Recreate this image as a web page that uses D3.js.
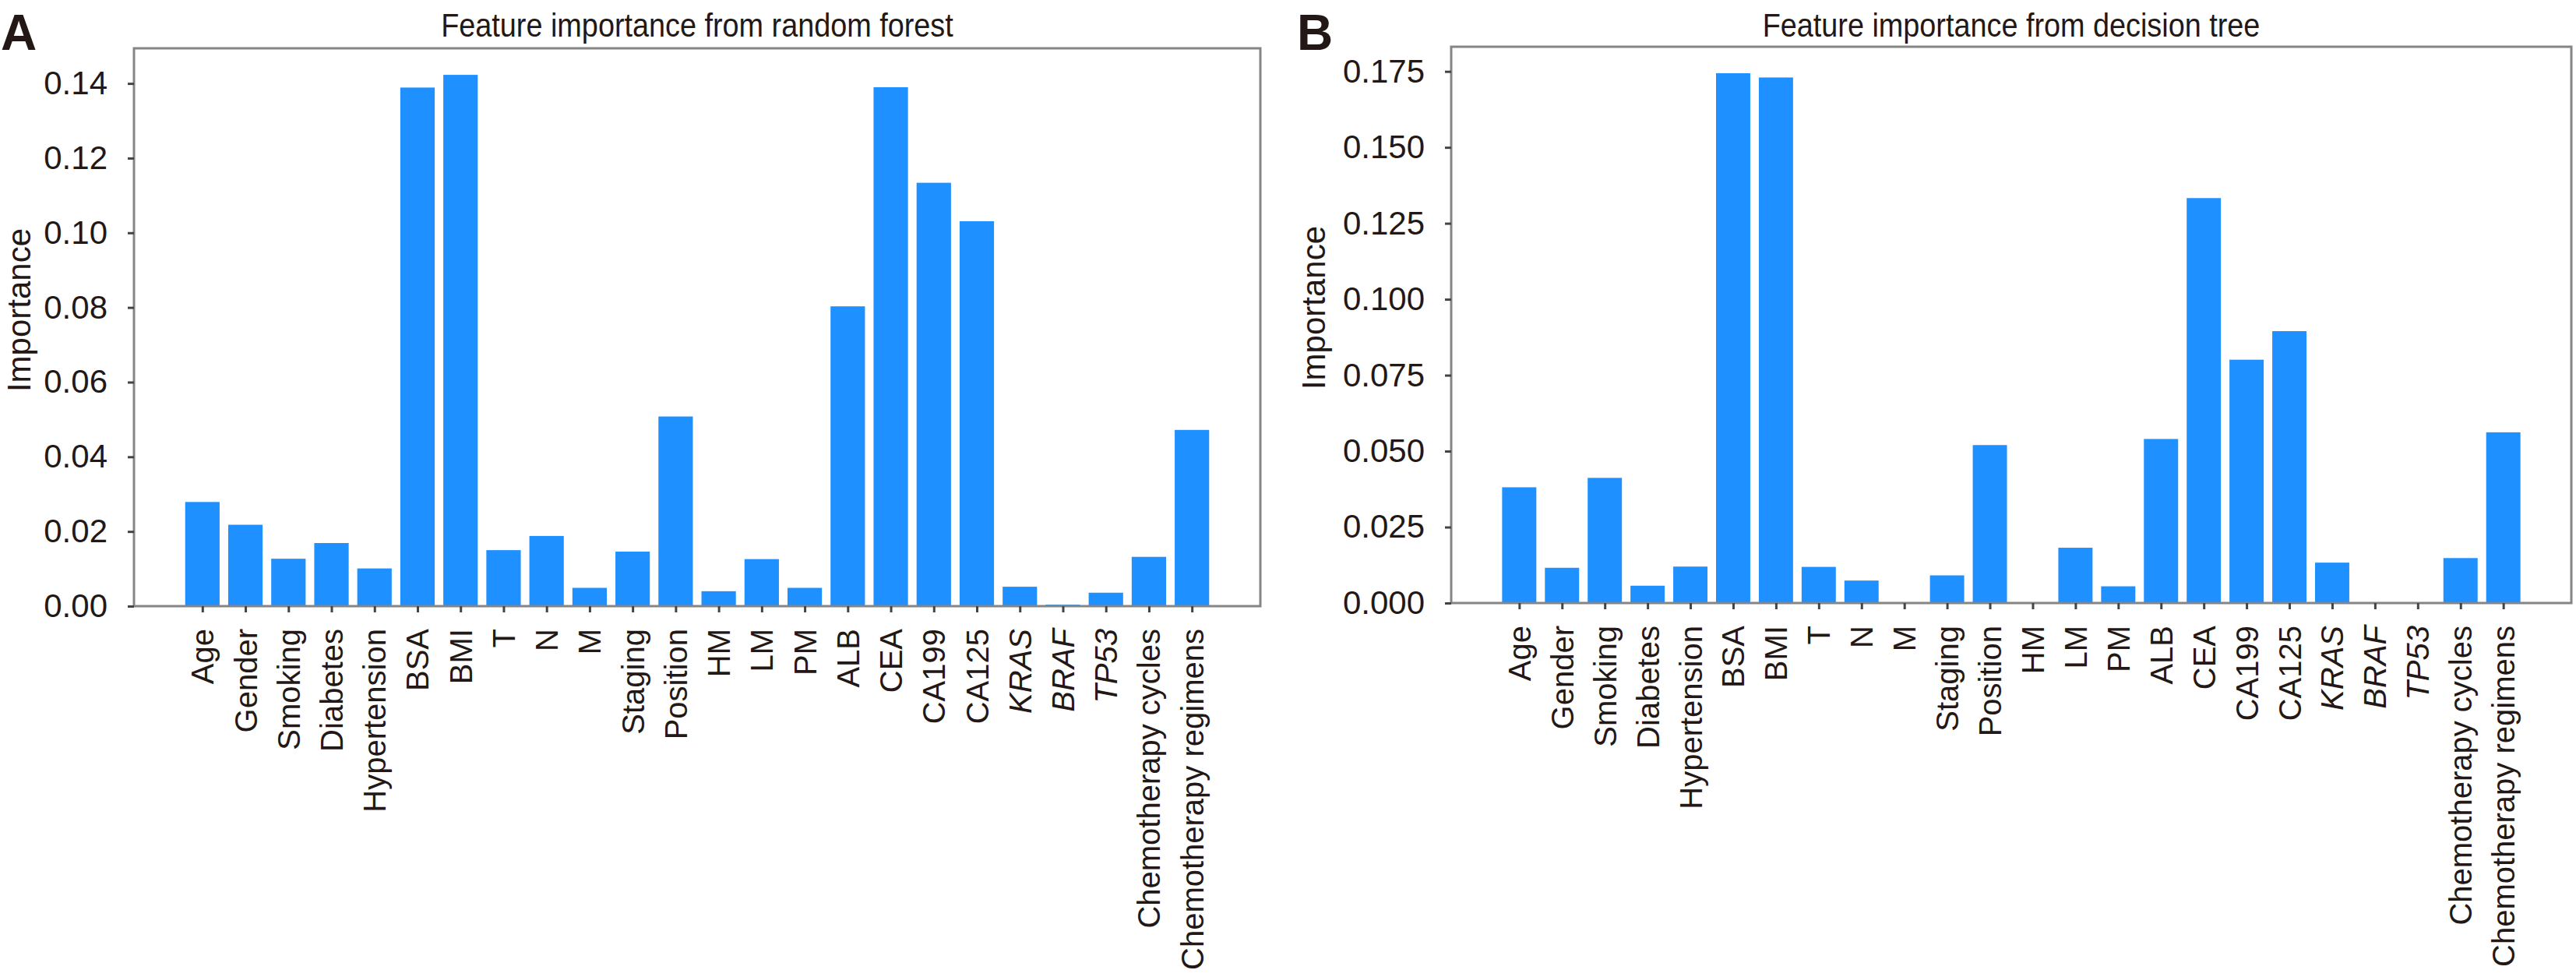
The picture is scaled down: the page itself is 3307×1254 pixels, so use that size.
<!DOCTYPE html>
<html>
<head>
<meta charset="utf-8">
<script src="https://cdn.jsdelivr.net/npm/d3@7"></script>
<style>
  html, body { margin: 0; padding: 0; background: #ffffff; }
  svg { display: block; }
</style>
</head>
<body>
<svg id="chart" width="3307" height="1254"></svg>
<script>
// ---------- data ----------
const categories = ["Age", "Gender", "Smoking", "Diabetes", "Hypertension", "BSA", "BMI", "T", "N", "M",
  "Staging", "Position", "HM", "LM", "PM", "ALB", "CEA", "CA199", "CA125", "KRAS", "BRAF", "TP53",
  "Chemotherapy cycles", "Chemotherapy regimens"];
const italicCategories = ["KRAS", "BRAF", "TP53"];

const randomForestValues = [0.0279, 0.0218, 0.0127, 0.0169, 0.0101, 0.1389, 0.1423, 0.0150, 0.0188, 0.0049,
  0.0146, 0.0508, 0.0040, 0.0126, 0.0049, 0.0803, 0.1390, 0.1134, 0.1031, 0.0052, 0.0004, 0.0036,
  0.0132, 0.0472];
const decisionTreeValues = [0.0381, 0.0116, 0.0412, 0.0057, 0.0120, 0.1744, 0.1730, 0.0119, 0.0074, 0.0,
  0.0091, 0.0520, 0.0, 0.0182, 0.0055, 0.0540, 0.1333, 0.0801, 0.0895, 0.0133, 0.0, 0.0,
  0.0148, 0.0562];

const ticksA = [0.00, 0.02, 0.04, 0.06, 0.08, 0.10, 0.12, 0.14];
const ticksB = [0.000, 0.025, 0.050, 0.075, 0.100, 0.125, 0.150, 0.175];

const titleA = "Feature importance from random forest";
const titleB = "Feature importance from decision tree";
const yLabel = "Importance";

// ---------- drawing ----------
const svg = d3.select("#chart");
svg.append("rect").attr("width", 3307).attr("height", 1254).attr("fill", "#ffffff");

const TEXT = "#231815";
const FONT = "'Liberation Sans', Arial, sans-serif";
const BAR = "#1E90FF";

function panel(opts) {
  const { left, right, top, bottom, values, ticks, fmt, title, letter, letterX, ylabelX } = opts;
  const maxV = d3.max(values) * 1.05;
  const x = d3.scaleLinear().domain([-1.59, categories.length - 1 + 1.59]).range([left, right]);
  const y = d3.scaleLinear().domain([0, maxV]).range([bottom, top]);
  const g = svg.append("g");

  // bars
  const bw = x(0.4) - x(-0.4);
  g.selectAll("rect.bar").data(values).enter().append("rect")
    .attr("class", "bar")
    .attr("x", (d, i) => x(i) - bw / 2)
    .attr("width", bw)
    .attr("y", d => y(d))
    .attr("height", d => y(0) - y(d))
    .attr("fill", BAR);

  // frame
  g.append("rect")
    .attr("x", left).attr("y", top)
    .attr("width", right - left).attr("height", bottom - top)
    .attr("fill", "none").attr("stroke", "#858585").attr("stroke-width", 3);

  // x axis
  const xa = g.append("g").attr("transform", `translate(0,${bottom})`)
    .call(d3.axisBottom(x).tickValues(d3.range(categories.length))
      .tickFormat(i => categories[i]).tickSize(8).tickPadding(0));
  xa.select(".domain").remove();
  xa.selectAll(".tick line").attr("stroke", "#444").attr("stroke-width", 3);
  xa.selectAll(".tick text")
    .attr("fill", TEXT)
    .style("font-family", FONT)
    .style("font-size", "40px")
    .style("font-style", (i) => italicCategories.includes(categories[i]) ? "italic" : "normal")
    .attr("text-anchor", "end")
    .attr("y", 0).attr("dy", "0.35em")
    .attr("transform", "translate(0,29) rotate(-90)");

  // y axis
  const ya = g.append("g").attr("transform", `translate(${left},0)`)
    .call(d3.axisLeft(y).tickValues(ticks).tickFormat(d3.format(fmt)).tickSize(8).tickPadding(26));
  ya.select(".domain").remove();
  ya.selectAll(".tick line").attr("stroke", "#444").attr("stroke-width", 3);
  ya.selectAll(".tick text")
    .attr("fill", TEXT)
    .style("font-family", FONT)
    .style("font-size", "42px");

  // title (slightly condensed, like the reference)
  const t = g.append("text")
    .attr("x", (left + right) / 2).attr("y", 47)
    .attr("text-anchor", "middle")
    .attr("fill", TEXT)
    .style("font-family", FONT).style("font-size", "42px")
    .text(title);
  const natural = t.node().getComputedTextLength();
  t.attr("textLength", natural * 0.9).attr("lengthAdjust", "spacingAndGlyphs");

  // y label
  g.append("text")
    .attr("transform", `translate(${ylabelX},${(top + bottom) / 2 - 22}) rotate(-90)`)
    .attr("text-anchor", "middle")
    .attr("dy", "0.35em")
    .attr("fill", TEXT)
    .style("font-family", FONT).style("font-size", "42px")
    .text(yLabel);

  // panel letter
  g.append("text")
    .attr("x", letterX).attr("y", 64)
    .attr("fill", TEXT)
    .style("font-family", FONT).style("font-size", "64px").style("font-weight", "bold")
    .text(letter);
}

panel({ left: 172, right: 1618, top: 62, bottom: 778, values: randomForestValues, ticks: ticksA,
  fmt: ".2f", title: titleA, letter: "A", letterX: 1, ylabelX: 24 });
panel({ left: 1863, right: 3301, top: 60, bottom: 774, values: decisionTreeValues, ticks: ticksB,
  fmt: ".3f", title: titleB, letter: "B", letterX: 1665, ylabelX: 1686 });
</script>
</body>
</html>
